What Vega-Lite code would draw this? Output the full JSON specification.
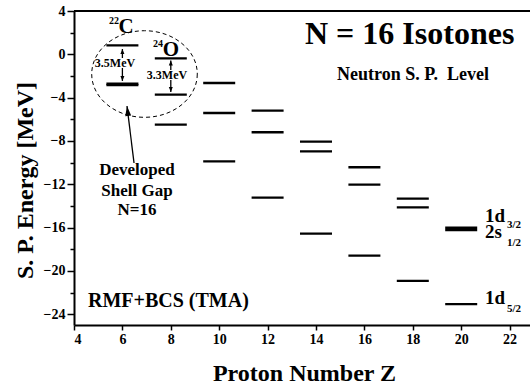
{
  "$schema": "https://vega.github.io/schema/vega-lite/v6.json",
  "width": 456,
  "height": 314,
  "autosize": {"type": "none"},
  "padding": {"left": 74, "top": 11, "right": 0, "bottom": 60},
  "background": "white",
  "config": {
    "view": {"stroke": null},
    "font": "Liberation Serif",
    "text": {"font": "Liberation Serif", "fontWeight": "bold", "color": "black"},
    "axis": {
      "domainColor": "black",
      "domainWidth": 2,
      "tickColor": "black",
      "tickWidth": 1.5,
      "labelColor": "black",
      "labelFont": "Liberation Serif",
      "labelFontWeight": "bold",
      "titleFont": "Liberation Serif",
      "titleFontWeight": "bold",
      "titleColor": "black",
      "grid": false
    }
  },
  "datasets": {
    "levels": [
      {"Z": 6, "orbital": "1d3/2", "E": 0.83},
      {"Z": 6, "orbital": "2s1/2", "E": -2.72},
      {"Z": 6, "orbital": "1d5/2", "E": -2.85},
      {"Z": 8, "orbital": "1d3/2", "E": -0.37},
      {"Z": 8, "orbital": "2s1/2", "E": -3.72},
      {"Z": 8, "orbital": "1d5/2", "E": -6.49},
      {"Z": 10, "orbital": "1d3/2", "E": -2.65},
      {"Z": 10, "orbital": "2s1/2", "E": -5.42},
      {"Z": 10, "orbital": "1d5/2", "E": -9.88},
      {"Z": 12, "orbital": "1d3/2", "E": -5.2},
      {"Z": 12, "orbital": "2s1/2", "E": -7.2},
      {"Z": 12, "orbital": "1d5/2", "E": -13.23},
      {"Z": 14, "orbital": "1d3/2", "E": -8.06},
      {"Z": 14, "orbital": "2s1/2", "E": -8.96},
      {"Z": 14, "orbital": "1d5/2", "E": -16.56},
      {"Z": 16, "orbital": "1d3/2", "E": -10.43},
      {"Z": 16, "orbital": "2s1/2", "E": -12.03},
      {"Z": 16, "orbital": "1d5/2", "E": -18.59},
      {"Z": 18, "orbital": "1d3/2", "E": -13.33},
      {"Z": 18, "orbital": "2s1/2", "E": -14.13},
      {"Z": 18, "orbital": "1d5/2", "E": -20.93},
      {"Z": 20, "orbital": "1d3/2", "E": -16.02},
      {"Z": 20, "orbital": "2s1/2", "E": -16.24},
      {"Z": 20, "orbital": "1d5/2", "E": -23.08}
    ],
    "frame": [{"Z": 4, "Z2": 22.843, "E": 4, "E2": 4}],
    "ellipse": [{"Z": 6.913, "E": -1.82}],
    "shafts": [
      {"Z": 6.0, "E": 0.49, "Z2": 6.0, "E2": -0.34},
      {"Z": 6.0, "E": -1.26, "Z2": 6.0, "E2": -2.46},
      {"Z": 8.0, "E": -0.57, "Z2": 8.0, "E2": -1.45},
      {"Z": 8.0, "E": -2.37, "Z2": 8.0, "E2": -3.48},
      {"Z": 6.48, "E": -10.04, "Z2": 6.19, "E2": -4.77}
    ],
    "heads": [
      {"Z": 6.0, "E": 0.49, "dir": "up"},
      {"Z": 6.0, "E": -2.46, "dir": "down"},
      {"Z": 8.0, "E": -0.57, "dir": "up"},
      {"Z": 8.0, "E": -3.48, "dir": "down"},
      {"Z": 6.19, "E": -4.77, "dir": "pointer"}
    ],
    "title": [{"Z": 13.545, "E": 0.952, "text": "N = 16 Isotones"}],
    "note": [{"Z": 14.868, "E": -2.372, "text": "Neutron S. P.\u00a0 Level"}],
    "method": [{"Z": 4.579, "E": -23.336, "text": "RMF+BCS (TMA)"}],
    "gap": [
      {"Z": 6.603, "E": -11.19, "text": "Developed"},
      {"Z": 6.603, "E": -13.085, "text": "Shell Gap"},
      {"Z": 6.603, "E": -14.886, "text": "N=16"}
    ],
    "mev": [
      {"Z": 5.694, "E": -1.172, "text": "3.5MeV"},
      {"Z": 7.843, "E": -2.28, "text": "3.3MeV"}
    ],
    "mass": [
      {"Z": 5.653, "E": 2.799, "text": "22"},
      {"Z": 7.471, "E": 0.721, "text": "24"}
    ],
    "element": [
      {"Z": 6.149, "E": 1.968, "text": "C"},
      {"Z": 8.008, "E": -0.156, "text": "O"}
    ],
    "orb": [
      {"Z": 20.983, "E": -15.486, "text": "1d"},
      {"Z": 20.983, "E": -16.964, "text": "2s"},
      {"Z": 20.983, "E": -23.106, "text": "1d"}
    ],
    "orbj": [
      {"Z": 21.893, "E": -16.04, "text": "3/2"},
      {"Z": 21.893, "E": -17.703, "text": "1/2"},
      {"Z": 21.893, "E": -23.798, "text": "5/2"}
    ]
  },
  "encoding": {
    "x": {
      "field": "Z", "type": "quantitative",
      "scale": {"domain": [4, 22.843], "nice": false, "zero": false},
      "axis": {
        "orient": "bottom",
        "values": [4, 6, 8, 10, 12, 14, 16, 18, 20, 22],
        "tickSize": 5,
        "labelPadding": 2,
        "labelFontSize": 14,
        "title": "Proton Number Z",
        "titleFontSize": 24,
        "titleX": 230,
        "titleY": 55,
        "titleBaseline": "alphabetic",
        "titleAlign": "center"
      }
    },
    "y": {
      "field": "E", "type": "quantitative",
      "scale": {"domain": [-25, 4], "nice": false, "zero": false},
      "axis": {
        "values": [-24, -22, -20, -18, -16, -14, -12, -10, -8, -6, -4, -2, 0, 2, 4],
        "labelExpr": "datum.value % 4 === 0 ? datum.label : ''",
        "tickSize": {"condition": {"test": "datum.value % 4 === 0", "value": 7}, "value": 4},
        "labelPadding": 2,
        "labelFontSize": 14,
        "title": "S. P. Energy [MeV]",
        "titleFontSize": 24,
        "titleAngle": -90,
        "titleX": -42,
        "titleY": 169,
        "titleBaseline": "alphabetic",
        "titleAlign": "center"
      }
    }
  },
  "layer": [
    {
      "data": {"name": "levels"},
      "mark": {"type": "tick", "orient": "horizontal", "size": 32, "thickness": 2.3, "color": "black", "opacity": 1}
    },
    {
      "data": {"name": "frame"},
      "mark": {"type": "rule", "color": "black", "strokeWidth": 2},
      "encoding": {"x2": {"field": "Z2"}, "y2": {"field": "E2"}}
    },
    {
      "data": {"name": "ellipse"},
      "mark": {
        "type": "point",
        "shape": "M 1 0 C 1 0.4529 0.5523 0.82 0 0.82 C -0.5523 0.82 -1 0.4529 -1 0 C -1 -0.4529 -0.5523 -0.82 0 -0.82 C 0.5523 -0.82 1 -0.4529 1 0 Z",
        "size": 11151,
        "filled": false,
        "stroke": "black",
        "strokeWidth": 1,
        "strokeDash": [4, 3],
        "opacity": 1
      }
    },
    {
      "data": {"name": "shafts"},
      "mark": {"type": "rule", "color": "black", "strokeWidth": 1.3},
      "encoding": {"x2": {"field": "Z2"}, "y2": {"field": "E2"}}
    },
    {
      "data": {"name": "heads"},
      "transform": [{"filter": "datum.dir === 'up'"}],
      "mark": {"type": "point", "shape": "M 0 0 L 1 2.5 L -1 2.5 Z", "size": 16, "filled": true, "color": "black", "opacity": 1, "strokeWidth": 0}
    },
    {
      "data": {"name": "heads"},
      "transform": [{"filter": "datum.dir === 'down'"}],
      "mark": {"type": "point", "shape": "M 0 0 L 1 2.5 L -1 2.5 Z", "size": 16, "angle": 180, "filled": true, "color": "black", "opacity": 1, "strokeWidth": 0}
    },
    {
      "data": {"name": "heads"},
      "transform": [{"filter": "datum.dir === 'pointer'"}],
      "mark": {"type": "point", "shape": "M 0 0 L 1.5 5 L -1.5 5 Z", "size": 16, "angle": -7, "filled": true, "color": "black", "opacity": 1, "strokeWidth": 0}
    },
    {
      "data": {"name": "title"},
      "mark": {"type": "text", "fontSize": 32, "align": "left", "baseline": "alphabetic"},
      "encoding": {"text": {"field": "text"}}
    },
    {
      "data": {"name": "note"},
      "mark": {"type": "text", "fontSize": 18, "align": "left", "baseline": "alphabetic"},
      "encoding": {"text": {"field": "text"}}
    },
    {
      "data": {"name": "method"},
      "mark": {"type": "text", "fontSize": 20, "align": "left", "baseline": "alphabetic"},
      "encoding": {"text": {"field": "text"}}
    },
    {
      "data": {"name": "gap"},
      "mark": {"type": "text", "fontSize": 17, "align": "center", "baseline": "alphabetic"},
      "encoding": {"text": {"field": "text"}}
    },
    {
      "data": {"name": "mev"},
      "mark": {"type": "text", "fontSize": 12, "align": "center", "baseline": "alphabetic"},
      "encoding": {"text": {"field": "text"}}
    },
    {
      "data": {"name": "mass"},
      "mark": {"type": "text", "fontSize": 10, "align": "center", "baseline": "alphabetic"},
      "encoding": {"text": {"field": "text"}}
    },
    {
      "data": {"name": "element"},
      "mark": {"type": "text", "fontSize": 21, "align": "center", "baseline": "alphabetic"},
      "encoding": {"text": {"field": "text"}}
    },
    {
      "data": {"name": "orb"},
      "mark": {"type": "text", "fontSize": 19, "align": "left", "baseline": "alphabetic"},
      "encoding": {"text": {"field": "text"}}
    },
    {
      "data": {"name": "orbj"},
      "mark": {"type": "text", "fontSize": 11, "align": "left", "baseline": "alphabetic"},
      "encoding": {"text": {"field": "text"}}
    }
  ]
}
